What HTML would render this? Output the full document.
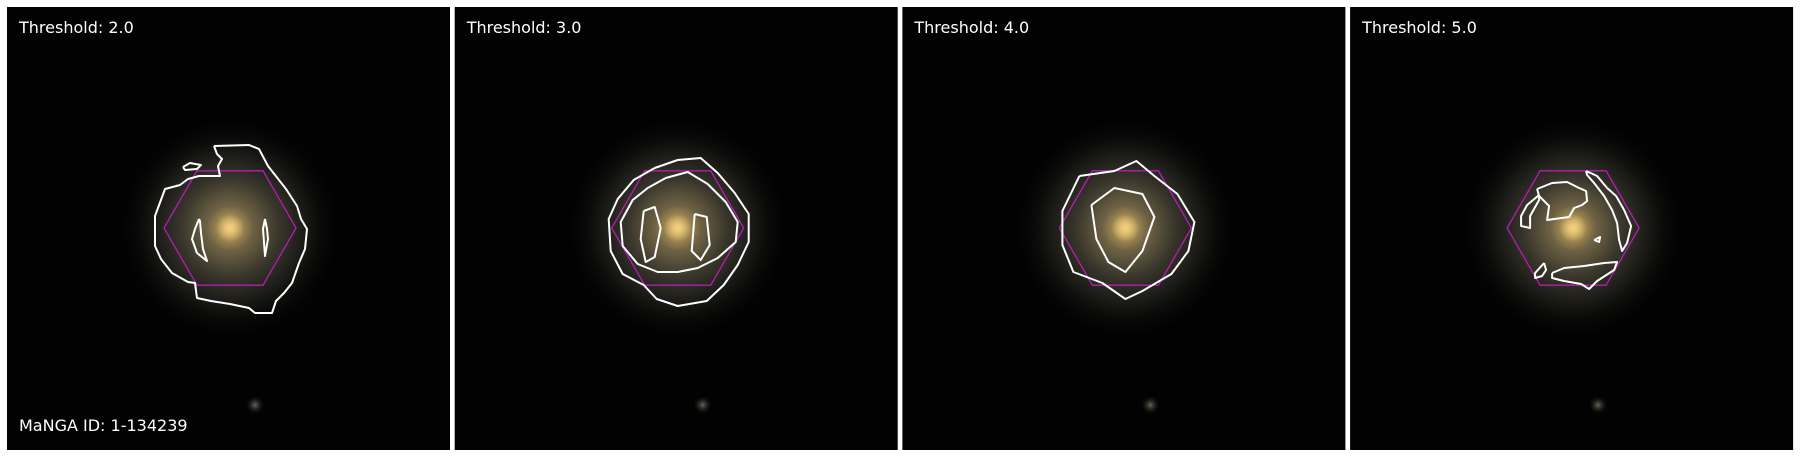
<!DOCTYPE html>
<html><head><meta charset="utf-8"><style>
html,body{margin:0;padding:0;background:#fff;width:1800px;height:457px;overflow:hidden}
svg{display:block}
text{font-family:"DejaVu Sans","Liberation Sans",sans-serif;font-size:16px;fill:#fff}
</style></head><body>
<svg id="fig" width="1800" height="457" viewBox="0 0 1800 457">
<defs>
<radialGradient id="glow" cx="0.5" cy="0.5" r="0.5">
<stop offset="0" stop-color="#e8c26e"/>
<stop offset="0.06" stop-color="#b89a58"/>
<stop offset="0.2" stop-color="#6e6244"/>
<stop offset="0.42" stop-color="#3a372c"/>
<stop offset="0.68" stop-color="#161614"/>
<stop offset="1" stop-color="#000" stop-opacity="0"/>
</radialGradient>
<radialGradient id="core" cx="0.5" cy="0.5" r="0.5">
<stop offset="0" stop-color="#f4cf80"/>
<stop offset="1" stop-color="#f4cf80" stop-opacity="0"/>
</radialGradient>
<radialGradient id="star" cx="0.5" cy="0.5" r="0.5">
<stop offset="0" stop-color="#6a685c"/>
<stop offset="1" stop-color="#000" stop-opacity="0"/>
</radialGradient>
</defs>
</svg>
<script>
const thresholds = [2.0, 3.0, 4.0, 5.0];
const mangaId = "1-134239";
const hexRadius = 66;
// contour offsets (px, relative to galaxy centre) per panel
const contours1 = [
 [[-16,-82],[19,-83],[29,-79],[38,-62],[56,-39],[67,-22],[71,-9],[77,1],[75,21],[69,35],[62,55],[54,65],[46,73],[42,85],[25,85],[19,80],[0,76],[-19,73],[-33,70],[-35,55],[-42,54],[-58,45],[-69,31],[-75,18],[-75,-12],[-65,-39],[-50,-43],[-42,-49],[-31,-52],[-10,-52],[-12,-62],[-8,-69],[-13,-74],[-16,-82]],
 [[-47,-61],[-40,-65],[-29,-63],[-33,-59],[-45,-58],[-47,-61]],
 [[-31,-9],[-35,1],[-38,11],[-33,25],[-23,33],[-27,21],[-29,5],[-30,-7],[-31,-9]],
 [[35,-9],[33,1],[35,28],[38,11],[37,1],[35,-9]]
];
const contours2 = [
 [[-23,-60],[0,-68],[23,-70],[40,-55],[57,-35],[71,-14],[71,14],[60,37],[46,57],[29,73],[0,78],[-21,71],[-34,57],[-55,46],[-67,23],[-69,-9],[-60,-29],[-44,-48],[-23,-60]],
 [[-12,-50],[10,-56],[30,-44],[48,-26],[60,-6],[58,14],[40,30],[20,40],[0,44],[-20,44],[-40,36],[-55,18],[-57,-6],[-45,-28],[-30,-40],[-12,-50]],
 [[-34,-17],[-23,-21],[-17,0],[-23,29],[-32,34],[-37,11],[-34,-17]],
 [[17,-14],[29,-11],[32,17],[23,32],[14,23],[17,-14]]
];
const contours3 = [
 [[-46,-52],[-11,-57],[11,-67],[29,-52],[52,-34],[69,-6],[63,23],[46,46],[17,63],[0,71],[-23,55],[-52,44],[-63,17],[-63,-17],[-46,-52]],
 [[-34,-23],[-11,-40],[17,-34],[29,-11],[17,23],[0,44],[-17,34],[-29,11],[-34,-23]]
];
const contours4 = [
 [[-36,-39],[-21,-45],[-6,-46],[6,-40],[13,-37],[14,-27],[9,-23],[1,-20],[-4,-11],[-26,-8],[-24,-22],[-29,-27],[-34,-32],[-36,-39]],
 [[-34,-33],[-46,-23],[-52,-12],[-52,-2],[-43,0],[-43,-12],[-34,-28],[-34,-33]],
 [[13,-57],[24,-52],[34,-40],[43,-32],[51,-18],[58,-2],[54,15],[49,23],[46,12],[44,-5],[39,-18],[31,-32],[21,-45],[14,-53],[13,-57]],
 [[-21,45],[-9,40],[11,38],[31,35],[44,34],[41,42],[24,53],[16,61],[8,56],[-9,53],[-21,50],[-21,45]],
 [[-29,35],[-38,45],[-38,50],[-31,48],[-27,42],[-29,35]],
 [[21,12],[27,9],[26,14],[21,12]]
];
const allContours = [contours1, contours2, contours3, contours4];

const NS = "http://www.w3.org/2000/svg";
const svg = document.getElementById("fig");
const panelLeft = i => 7 + i * 447.7;
const panelTop = 7, panelSize = 443;
function mk(tag, attrs){const e=document.createElementNS(NS,tag);for(const k in attrs)e.setAttribute(k,attrs[k]);return e;}

thresholds.forEach((t, i) => {
  const x0 = panelLeft(i), cx = x0 + 223, cy = 228;
  const g = mk("g", {});
  
  
  svg.appendChild(g);
  const bg = mk("rect", {x:x0, y:panelTop, width:panelSize, height:panelSize, fill:"#020202"});
  
  
  g.appendChild(bg);
  const glow = mk("circle", {cx:cx, cy:cy, r:115, fill:"url(#glow)"});
  
  
  g.appendChild(glow);
  const core = mk("circle", {cx:cx, cy:cy, r:14, fill:"url(#core)"});
  
  
  g.appendChild(core);
  const st = mk("circle", {cx:cx+25, cy:cy+177, r:10, fill:"url(#star)"});
  
  
  g.appendChild(st);
  let pts = [];
  for (let k=0;k<6;k++){const a=k*Math.PI/3;pts.push((cx+hexRadius*Math.cos(a)).toFixed(1)+","+(cy+hexRadius*Math.sin(a)).toFixed(1));}
  const hex = mk("polygon", {points:pts.join(" "), fill:"none", stroke:"#b21fb2", "stroke-width":1.3});
  
  
  g.appendChild(hex);
  allContours[i].forEach(c => {
    const d = c.map((p,j)=>(j?"L":"M")+(cx+p[0])+","+(cy+p[1])).join(" ");
    const path = mk("path", {d:d, fill:"none", stroke:"#fff", "stroke-width":2, "stroke-linejoin":"round"});
    
    
    g.appendChild(path);
  });
  const tx = mk("text", {x:x0+12, y:33});
  tx.textContent = "Threshold: " + t.toFixed(1);
  
  
  g.appendChild(tx);
  if (i === 0) {
    const id = mk("text", {x:x0+12, y:431});
    id.textContent = "MaNGA ID: " + mangaId;
    
    
    g.appendChild(id);
  }
});
</script>
</body></html>
